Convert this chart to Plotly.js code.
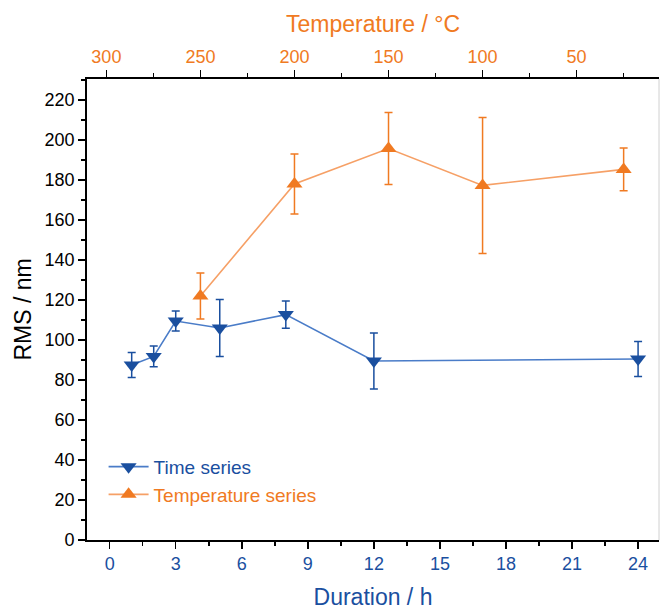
<!DOCTYPE html>
<html>
<head>
<meta charset="utf-8">
<script src="https://cdn.plot.ly/plotly-3.0.1.min.js"></script>
<style>html,body{margin:0;padding:0;background:#fff;}#chart{width:661px;height:610px;}</style>
</head>
<body>
<div id="chart"></div>
<script>
// Time series (bottom axis: Duration / h)
const timeHours = [1, 2, 3, 5, 8, 12, 24];
const timeRMS = [87.5, 91.8, 109.5, 106, 112.7, 89.5, 90.5];
const timeErr = [6.2, 5.2, 5, 14.2, 6.8, 14, 8.8];

// Temperature series (top axis: Temperature / °C)
const tempC = [250, 200, 150, 100, 25];
const tempRMS = [122, 178, 195.7, 177.3, 185.3];
const tempErr = [11.5, 15, 18, 34, 10.7];

const xTickVals = [0, 3, 6, 9, 12, 15, 18, 21, 24];
const topTickVals = [300, 250, 200, 150, 100, 50];
const yTickVals = [0, 20, 40, 60, 80, 100, 120, 140, 160, 180, 200, 220];

const BLUE = '#1a4f9f', BLUE_LINE = '#4a7cc8';
const ORANGE = '#f07a22', ORANGE_LINE = '#f6a066';
const FONT = 'Liberation Sans, Arial, sans-serif';

const traces = [
  {
    x: timeHours, y: timeRMS, xaxis: 'x', yaxis: 'y',
    type: 'scatter', mode: 'lines+markers',
    name: '<span style="color:' + BLUE + '">Time series</span>',
    line: {color: BLUE_LINE, width: 1.6},
    marker: {symbol: 'triangle-down', size: 14, color: BLUE},
    error_y: {type: 'data', array: timeErr, visible: true, color: BLUE, thickness: 1.5, width: 4}
  },
  {
    x: tempC, y: tempRMS, xaxis: 'x2', yaxis: 'y',
    type: 'scatter', mode: 'lines+markers',
    name: '<span style="color:' + ORANGE + '">Temperature series</span>',
    line: {color: ORANGE_LINE, width: 1.6},
    marker: {symbol: 'triangle-up', size: 14, color: ORANGE},
    error_y: {type: 'data', array: tempErr, visible: true, color: ORANGE, thickness: 1.5, width: 4}
  }
];

const layout = {
  width: 661, height: 610,
  margin: {l: 87, r: 2, t: 79, b: 70},
  paper_bgcolor: '#fff', plot_bgcolor: '#fff',
  font: {family: FONT, size: 18, color: '#000'},
  showlegend: true,
  legend: {x: 0.029, y: 0.2, xanchor: 'left', yanchor: 'top', bgcolor: 'rgba(0,0,0,0)',
           font: {family: FONT, size: 19}, tracegroupgap: 0, itemwidth: 40},
  xaxis: {
    range: [-1.03, 24.95], tickmode: 'array', tickvals: xTickVals,
    ticks: 'outside', ticklen: 7, tickwidth: 1.5, tickcolor: '#000',
    minor: {dtick: 1.5, tick0: 0, ticks: 'outside', ticklen: 4, tickwidth: 1.5, tickcolor: '#000'},
    showline: true, linecolor: '#000', linewidth: 1.8, mirror: false,
    showgrid: false, zeroline: false,
    tickfont: {family: FONT, size: 18, color: BLUE},
    title: {text: 'Duration / h', font: {family: FONT, size: 23, color: BLUE}, standoff: 15}
  },
  xaxis2: {
    overlaying: 'x', side: 'top', anchor: 'y',
    range: [310.3, 6.2], tickmode: 'array', tickvals: topTickVals,
    ticks: 'outside', ticklen: 7, tickwidth: 1.5, tickcolor: '#000',
    minor: {dtick: 25, tick0: 0, ticks: 'outside', ticklen: 4, tickwidth: 1.5, tickcolor: '#000'},
    showline: true, linecolor: '#000', linewidth: 1.8,
    showgrid: false, zeroline: false,
    tickfont: {family: FONT, size: 18, color: ORANGE},
    title: {text: 'Temperature / °C', font: {family: FONT, size: 23, color: ORANGE}, standoff: 8}
  },
  yaxis: {
    range: [0, 230.5], tickmode: 'array', tickvals: yTickVals,
    ticks: 'outside', ticklen: 7, tickwidth: 1.5, tickcolor: '#000',
    minor: {dtick: 10, tick0: 0, ticks: 'outside', ticklen: 4, tickwidth: 1.5, tickcolor: '#000'},
    showline: true, linecolor: '#000', linewidth: 1.8,
    showgrid: false, zeroline: false,
    tickfont: {family: FONT, size: 18, color: '#000'},
    title: {text: 'RMS / nm', font: {family: FONT, size: 23, color: '#000'}, standoff: 6}
  },
  shapes: [
    {type: 'line', xref: 'paper', yref: 'paper', x0: 1, x1: 1, y0: 0, y1: 1,
     line: {color: '#d0d0d0', width: 1}}
  ]
};

Plotly.newPlot('chart', traces, layout, {displayModeBar: false, staticPlot: true});
</script>
</body>
</html>
